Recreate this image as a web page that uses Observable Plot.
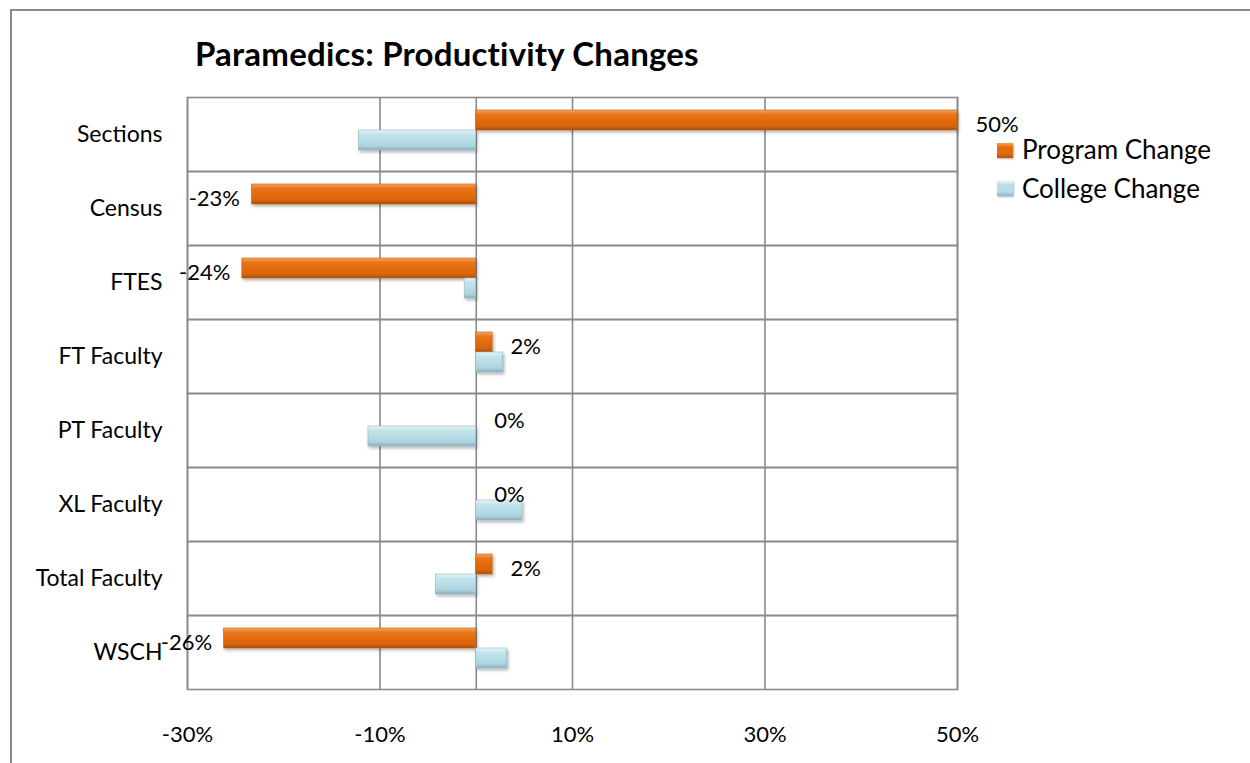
<!DOCTYPE html>
<html>
<head>
<meta charset="utf-8">
<script src="https://cdn.jsdelivr.net/npm/d3@7"></script>
<script src="https://cdn.jsdelivr.net/npm/@observablehq/plot@0.6"></script>
<style>
  html, body { margin: 0; padding: 0; background: #fff; overflow: hidden; }
  #page { position: relative; width: 1250px; height: 763px; font-family: Lato, "Open Sans", sans-serif; color: #000; }
  #frame { position: absolute; left: 10px; top: 9px; width: 1400px; height: 900px; border-left: 2px solid #898989; border-top: 2px solid #898989; }
  #title { position: absolute; left: 195px; top: 37px; font-size: 33px; line-height: 33px; font-weight: 700; letter-spacing: 0.2px; white-space: nowrap; }
  #chart { position: absolute; left: 0; top: 80px; }
  .leg { position: absolute; left: 997px; font-size: 26px; line-height: 26px; white-space: nowrap; }
  .sw { position: absolute; left: 0; width: 16px; height: 15px; box-shadow: 1px 1px 2px rgba(0,0,0,0.3); }
  .lt { position: absolute; left: 25px; top: 0; }
</style>
</head>
<body>
<div id="page">
  <div id="frame"></div>
  <div id="title">Paramedics: Productivity Changes</div>
  <div id="chart"></div>
  <div class="leg" style="top:136px"><div class="sw" style="top:7px;background:linear-gradient(#f5a35c,#e36c0a 30%,#e36c0a 70%,#b5560a)"></div><div class="lt">Program Change</div></div>
  <div class="leg" style="top:175px"><div class="sw" style="top:6px;background:linear-gradient(#e2f2f7,#b7dde8 30%,#b7dde8 70%,#8fb7c3)"></div><div class="lt">College Change</div></div>
</div>
<script>
const categories = ["Sections", "Census", "FTES", "FT Faculty", "PT Faculty", "XL Faculty", "Total Faculty", "WSCH"];
const seriesNames = ["Program Change", "College Change"];
const programChange = [50, -23.3, -24.3, 1.7, 0, 0, 1.7, -26.2];
const collegeChange = [-12.2, 0, -1.2, 2.8, -11.2, 4.8, -4.2, 3.2];
const xTicks = [-30, -10, 10, 30, 50];
const gridValues = [-30, -10, 0, 10, 30, 50];

const rows = categories.flatMap((c, i) => [
  {category: c, series: seriesNames[0], value: programChange[i]},
  {category: c, series: seriesNames[1], value: collegeChange[i]}
]);
const progRows = rows.filter(d => d.series === seriesNames[0]);
const collRows = rows.filter(d => d.series === seriesNames[1]);
const fmt = d => Math.round(d.value) + "%";

const gridColor = "#8a8a8a";

const plot = Plot.plot({
  width: 1250,
  height: 683,
  marginLeft: 187,
  marginRight: 293,
  marginTop: 13,
  marginBottom: 71,
  style: {fontFamily: "Lato, 'Open Sans', sans-serif", fontSize: "22px", color: "#000", background: "transparent", overflow: "visible"},
  x: {domain: [-30, 50], nice: false},
  y: {domain: seriesNames, paddingInner: 0, paddingOuter: 0.8, align: 0.38, axis: null},
  fy: {domain: categories, padding: 0},
  marks: [
    Plot.ruleX(gridValues, {stroke: gridColor, strokeWidth: 1.6}),
    Plot.frame({stroke: gridColor, strokeWidth: 1.6}),
    Plot.barX(progRows, {x: "value", y: "series", fy: "category", fill: "url(#gOrange)", stroke: "#c0600c", strokeWidth: 0.6}),
    Plot.barX(collRows, {x: "value", y: "series", fy: "category", fill: "url(#gBlue)", stroke: "#93b9c4", strokeWidth: 0.6}),
    Plot.text(progRows.filter(d => d.value >= 0), {x: "value", y: "series", fy: "category", text: fmt, textAnchor: "start", dx: 18, dy: 4, fontSize: 22, fill: "#000"}),
    Plot.text(progRows.filter(d => d.value < 0), {x: "value", y: "series", fy: "category", text: fmt, textAnchor: "end", dx: -12, dy: 4, fontSize: 22, fill: "#000"}),
    Plot.axisX(xTicks, {tickSize: 0, tickPadding: 37, tickFormat: d => d + "%", fontSize: 22, label: null}),
    Plot.axisFy({anchor: "left", tickSize: 0, tickPadding: 25, fontSize: 23, label: null})
  ]
});

const svg = d3.select(plot);
const defs = svg.insert("defs", ":first-child");
function grad(id, stops) {
  const g = defs.append("linearGradient").attr("id", id).attr("x1", 0).attr("y1", 0).attr("x2", 0).attr("y2", 1);
  stops.forEach(([o, c]) => g.append("stop").attr("offset", o).attr("stop-color", c));
}
grad("gOrange", [[0, "#f6a865"], [0.22, "#e8751a"], [0.5, "#e36c0a"], [0.8, "#d8650a"], [1, "#aa4f08"]]);
grad("gBlue", [[0, "#e6f4f8"], [0.22, "#c4e4ec"], [0.5, "#b7dde8"], [0.8, "#acd3de"], [1, "#88afbb"]]);
const f = defs.append("filter").attr("id", "shadow").attr("x", "-10%").attr("y", "-30%").attr("width", "130%").attr("height", "180%");
f.append("feDropShadow").attr("dx", 1.5).attr("dy", 2).attr("stdDeviation", 1.5).attr("flood-color", "#000").attr("flood-opacity", 0.3);
svg.selectAll("g[aria-label='bar'] rect").attr("filter", "url(#shadow)");

document.getElementById("chart").appendChild(plot);
</script>
</body>
</html>
